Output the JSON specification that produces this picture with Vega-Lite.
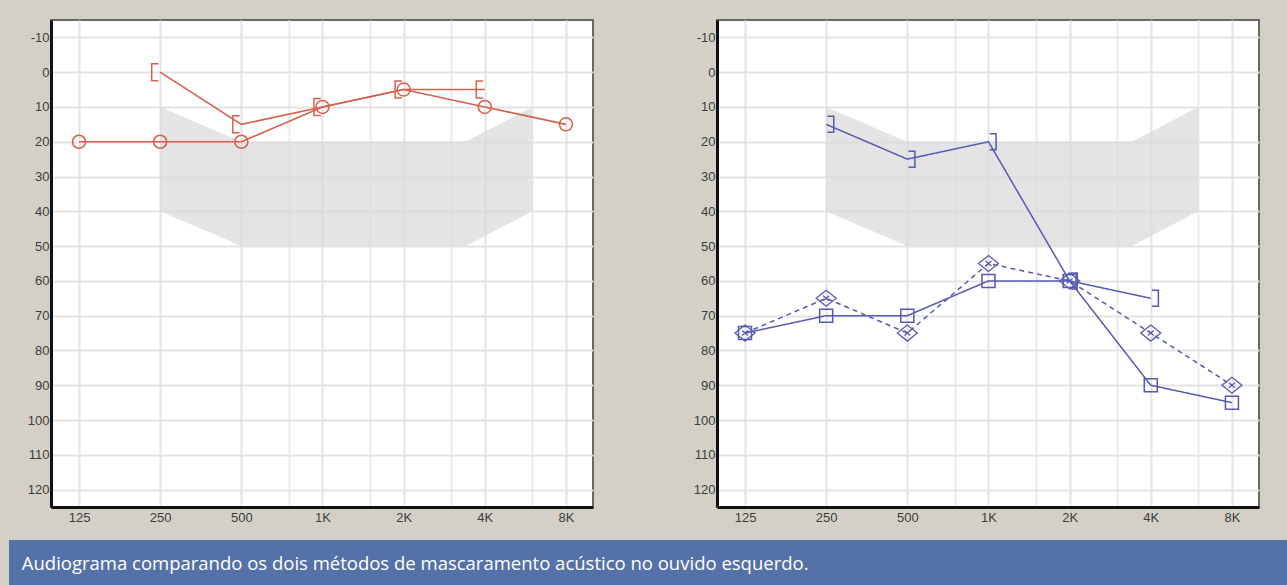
{
  "$schema": "https://vega.github.io/schema/vega-lite/v6.json",
  "background": "#d4d0c8",
  "padding": {"left": 9, "top": 19, "right": 0, "bottom": 0},
  "config": {
    "view": {"stroke": "#686868", "strokeWidth": 2, "fill": "white"},
    "axis": {
      "ticks": false,
      "domainColor": "#111111",
      "domainWidth": 3,
      "gridColor": "#e3e3e3",
      "gridWidth": 2,
      "labelFont": "Liberation Sans",
      "labelFontSize": 13,
      "labelColor": "#3c3c3c",
      "title": null
    },
    "axisX": {"labelPadding": 4, "minExtent": 32, "maxExtent": 32, "labelFlush": false, "labelOverlap": false},
    "axisY": {"labelPadding": 2, "minExtent": 40, "maxExtent": 40, "labelOverlap": false}
  },
  "datasets": {
    "region": [
      {"freq": 250, "lo": 40, "hi": 10},
      {"freq": 500, "lo": 50, "hi": 20},
      {"freq": 3400, "lo": 50, "hi": 20},
      {"freq": 6000, "lo": 40, "hi": 10}
    ],
    "left": [
      {"freq": 125, "db": 20, "series": "AC"},
      {"freq": 250, "db": 20, "series": "AC"},
      {"freq": 500, "db": 20, "series": "AC"},
      {"freq": 1000, "db": 10, "series": "AC"},
      {"freq": 2000, "db": 5, "series": "AC"},
      {"freq": 4000, "db": 10, "series": "AC"},
      {"freq": 8000, "db": 15, "series": "AC"},
      {"freq": 250, "db": 0, "series": "BC"},
      {"freq": 500, "db": 15, "series": "BC"},
      {"freq": 1000, "db": 10, "series": "BC"},
      {"freq": 2000, "db": 5, "series": "BC"},
      {"freq": 4000, "db": 5, "series": "BC"}
    ],
    "right": [
      {"freq": 250, "db": 15, "series": "BC"},
      {"freq": 500, "db": 25, "series": "BC"},
      {"freq": 1000, "db": 20, "series": "BC"},
      {"freq": 2000, "db": 60, "series": "BC"},
      {"freq": 4000, "db": 65, "series": "BC"},
      {"freq": 125, "db": 75, "series": "SQ"},
      {"freq": 250, "db": 70, "series": "SQ"},
      {"freq": 500, "db": 70, "series": "SQ"},
      {"freq": 1000, "db": 60, "series": "SQ"},
      {"freq": 2000, "db": 60, "series": "SQ"},
      {"freq": 4000, "db": 90, "series": "SQ"},
      {"freq": 8000, "db": 95, "series": "SQ"},
      {"freq": 125, "db": 75, "series": "DI"},
      {"freq": 250, "db": 65, "series": "DI"},
      {"freq": 500, "db": 75, "series": "DI"},
      {"freq": 1000, "db": 55, "series": "DI"},
      {"freq": 2000, "db": 60, "series": "DI"},
      {"freq": 4000, "db": 75, "series": "DI"},
      {"freq": 8000, "db": 90, "series": "DI"}
    ]
  },
  "spacing": 0,
  "vconcat": [
    {
      "spacing": 0,
      "hconcat": [
        {
          "width": 1,
          "height": 487,
          "view": {"fill": null, "stroke": null},
          "data": {"values": []},
          "mark": "point"
        },
        {
          "spacing": 82,
          "hconcat": [
            {
              "width": 542,
              "height": 487,
              "encoding": {
                "x": {"field": "freq", "type": "quantitative",
                  "scale": {"type": "log", "base": 2, "domain": [98.4, 10080], "nice": false},
                  "axis": {"values": [125, 250, 500, 750, 1000, 1500, 2000, 3000, 4000, 6000, 8000],
                    "gridColor": {"condition": {"test": "datum.value == 750 || datum.value == 1500 || datum.value == 3000 || datum.value == 6000", "value": "#ebebeb"}, "value": "#e3e3e3"},
                    "labelExpr": "datum.value == 1000 ? '1K' : datum.value == 2000 ? '2K' : datum.value == 4000 ? '4K' : datum.value == 8000 ? '8K' : (datum.value == 125 || datum.value == 250 || datum.value == 500) ? '' + datum.value : ''"}},
                "y": {"field": "db", "type": "quantitative",
                  "scale": {"domain": [-15, 125], "reverse": true, "nice": false, "zero": false},
                  "axis": {"values": [-10, 0, 10, 20, 30, 40, 50, 60, 70, 80, 90, 100, 110, 120], "labelExpr": "'' + datum.value"}}
              },
              "layer": [
                {
                  "data": {"name": "region"},
                  "mark": {"type": "area", "color": "#d9d9d9", "opacity": 0.72},
                  "encoding": {"y": {"field": "hi", "type": "quantitative"}, "y2": {"field": "lo"}}
                },
                {
                  "data": {"name": "left"},
                  "mark": {"type": "line", "color": "#d6604b", "strokeWidth": 1.6},
                  "encoding": {"detail": {"field": "series"}}
                },
                {
                  "data": {"name": "left"},
                  "transform": [{"filter": "datum.series == 'AC'"}],
                  "mark": {"type": "point", "shape": "circle", "size": 169, "filled": false, "color": "#d6604b", "strokeWidth": 1.5, "opacity": 1}
                },
                {
                  "data": {"name": "left"},
                  "transform": [{"filter": "datum.series == 'BC'"}],
                  "mark": {"type": "point", "shape": "M -0.2 -1 L -1 -1 L -1 1 L -0.2 1", "size": 289, "filled": false, "color": "#d6604b", "strokeWidth": 1.5, "opacity": 1}
                }
              ]
            },
            {
              "width": 542,
              "height": 487,
              "encoding": {
                "x": {"field": "freq", "type": "quantitative",
                  "scale": {"type": "log", "base": 2, "domain": [98.4, 10080], "nice": false},
                  "axis": {"values": [125, 250, 500, 750, 1000, 1500, 2000, 3000, 4000, 6000, 8000],
                    "gridColor": {"condition": {"test": "datum.value == 750 || datum.value == 1500 || datum.value == 3000 || datum.value == 6000", "value": "#ebebeb"}, "value": "#e3e3e3"},
                    "labelExpr": "datum.value == 1000 ? '1K' : datum.value == 2000 ? '2K' : datum.value == 4000 ? '4K' : datum.value == 8000 ? '8K' : (datum.value == 125 || datum.value == 250 || datum.value == 500) ? '' + datum.value : ''"}},
                "y": {"field": "db", "type": "quantitative",
                  "scale": {"domain": [-15, 125], "reverse": true, "nice": false, "zero": false},
                  "axis": {"values": [-10, 0, 10, 20, 30, 40, 50, 60, 70, 80, 90, 100, 110, 120], "labelExpr": "'' + datum.value"}}
              },
              "layer": [
                {
                  "data": {"name": "region"},
                  "mark": {"type": "area", "color": "#d9d9d9", "opacity": 0.72},
                  "encoding": {"y": {"field": "hi", "type": "quantitative"}, "y2": {"field": "lo"}}
                },
                {
                  "data": {"name": "right"},
                  "mark": {"type": "line", "color": "#5659b3", "strokeWidth": 1.5},
                  "encoding": {
                    "detail": {"field": "series"},
                    "strokeDash": {"field": "series", "type": "nominal",
                      "scale": {"domain": ["BC", "SQ", "DI"], "range": [[1, 0], [1, 0], [5, 4]]}, "legend": null}
                  }
                },
                {
                  "data": {"name": "right"},
                  "transform": [{"filter": "datum.series == 'SQ'"}],
                  "mark": {"type": "point", "shape": "square", "size": 169, "filled": false, "color": "#5659b3", "strokeWidth": 1.5, "opacity": 1}
                },
                {
                  "data": {"name": "right"},
                  "transform": [{"filter": "datum.series == 'DI'"}],
                  "mark": {"type": "point", "shape": "M -1 0 L 0 -0.8 L 1 0 L 0 0.8 Z M -0.3 -0.25 L 0.3 0.25 M -0.3 0.25 L 0.3 -0.25", "size": 400, "filled": false, "color": "#5659b3", "strokeWidth": 1.3, "opacity": 1}
                },
                {
                  "data": {"name": "right"},
                  "transform": [{"filter": "datum.series == 'BC'"}],
                  "mark": {"type": "point", "shape": "M 0.15 -1 L 0.95 -1 L 0.95 1 L 0.15 1", "size": 256, "filled": false, "color": "#5659b3", "strokeWidth": 1.5, "opacity": 1}
                }
              ]
            }
          ]
        }
      ]
    },
    {
      "width": 1278,
      "height": 47,
      "view": {"fill": "#5472a8", "stroke": null},
      "data": {"values": [{"caption": "Audiograma comparando os dois métodos de mascaramento acústico no ouvido esquerdo."}]},
      "mark": {"type": "text", "align": "left", "baseline": "middle", "color": "white", "font": "Open Sans", "fontSize": 18.5},
      "encoding": {
        "text": {"field": "caption"},
        "x": {"datum": 1, "type": "quantitative", "scale": {"domain": [0, 100]}, "axis": null}
      }
    }
  ]
}
